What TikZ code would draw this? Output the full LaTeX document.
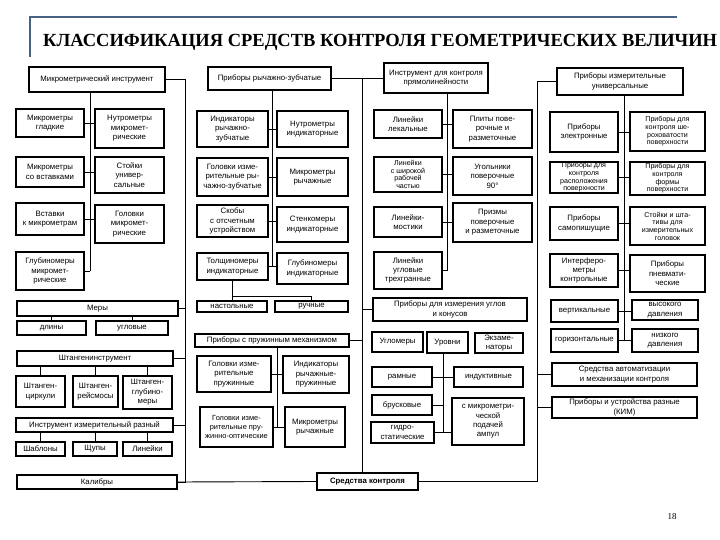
\documentclass[tikz,border=0pt]{standalone}
\usepackage{fontspec}
\setmainfont{Liberation Serif}
\newfontfamily\bxfont{Liberation Sans}
\definecolor{frameblue}{RGB}{70,100,130}
\tikzset{
  bx/.style={draw, line width=1.2pt, inner sep=0pt, align=center, font=\bxfont\fontsize{7.8}{9.4}\selectfont},
  tight/.style={font=\bxfont\fontsize{7.1}{7.7}\selectfont},
  ln/.style={line width=0.9pt},
}
\newcommand{\bx}[7][]{\node[bx,#1,minimum width={(#5-#3)*1pt},minimum height={(#6-#4)*1pt}] (#2) at ({(#3+#5)/2},{(#4+#6)/2}) {#7};}
\begin{document}
\begin{tikzpicture}[x=1pt,y=-1pt]
\useasboundingbox (0,0) rectangle (720,540);
% title frame
\draw[frameblue, line width=1.6pt] (30,57) -- (30,17) -- (677,17);
\node[anchor=base west, inner sep=0pt, font=\bfseries\fontsize{18.5}{20}\selectfont] (title) at (43,47) {КЛАССИФИКАЦИЯ СРЕДСТВ КОНТРОЛЯ ГЕОМЕТРИЧЕСКИХ ВЕЛИЧИН};

% bus and trunk x positions
\coordinate (b1) at (185,0);
\coordinate (b2) at (362,0);
\coordinate (b4) at (537,0);
\coordinate (t1) at (90,0);
\coordinate (t2) at (272,0);
\coordinate (t2b) at (277,0);
\coordinate (t3) at (447,0);
\coordinate (t3b) at (443,0);
\coordinate (t4) at (624,0);

% ---------- column 1 ----------
\bx{mi}{29}{67}{165}{92}{Микрометрический инструмент}
\bx{mg}{16}{109}{84}{137}{Микрометры\\гладкие}
\bx{nm}{95}{109}{164}{148}{Нутрометры\\микромет-\\рические}
\bx{mv}{16}{157}{84}{187}{Микрометры\\со вставками}
\bx{su}{95}{157}{164}{193}{Стойки\\универ-\\сальные}
\bx{vk}{16}{203}{84}{235}{Вставки\\к микрометрам}
\bx{gm}{95}{205}{164}{243}{Головки\\микромет-\\рические}
\bx{gl}{16}{252}{84}{290}{Глубиномеры\\микромет-\\рические}

\bx{me}{17}{301}{178}{316}{Меры}
\bx{dl}{17}{321}{86}{335}{длины}
\bx{ug}{96}{321}{168}{335}{угловые}
\bx{si}{17}{351}{173}{366}{Штангенинструмент}
\bx{sc}{16}{376}{65}{407}{Штанген-\\циркули}
\bx{sr}{73}{376}{118}{407}{Штанген-\\рейсмосы}
\bx{sg}{123}{376}{172}{409}{Штанген-\\глубино-\\меры}
\bx{ir}{16}{418}{173}{432}{Инструмент измерительный разный}
\bx{sh}{16}{442}{65}{456}{Шаблоны}
\bx{sp}{73}{442}{117}{456}{Щупы}
\bx{lnk}{123}{442}{172}{456}{Линейки}
\bx{ka}{17}{475}{177}{489}{Калибры}

% ---------- column 2 ----------
\bx{pr}{208}{67}{331}{90}{Приборы рычажно-зубчатые}
\bx{ir1}{197}{111}{268}{147}{Индикаторы\\рычажно-\\зубчатые}
\bx{nu}{277}{111}{348}{147}{Нутрометры\\индикаторные}
\bx{gr}{197}{158}{268}{196}{Головки изме-\\рительные ры-\\чажно-зубчатые}
\bx{mr}{277}{158}{348}{196}{Микрометры\\рычажные}
\bx{sk2}{197}{205}{268}{237}{Скобы\\с отсчетным\\устройством}
\bx{st}{277}{207}{348}{242}{Стенкомеры\\индикаторные}
\bx{to}{197}{253}{268}{280}{Толщиномеры\\индикаторные}
\bx{gi}{277}{253}{348}{284}{Глубиномеры\\индикаторные}
\bx{ns}{197}{301}{267}{312}{настольные}
\bx{ru}{275}{301}{348}{312}{ручные}
\bx{pp}{195}{334}{349}{347}{Приборы с пружинным механизмом}
\bx{gp}{197}{356}{271}{392}{Головки изме-\\рительные\\пружинные}
\bx{irp}{283}{356}{349}{393}{Индикаторы\\рычажные-\\пружинные}
\bx[font=\bxfont\fontsize{7.4}{9.4}\selectfont]{go}{200}{407}{273}{447}{Головки изме-\\рительные пру-\\жинно-оптические}
\bx{mr2}{285}{407}{345}{447}{Микрометры\\рычажные}

\bx[font=\bxfont\bfseries\fontsize{7.8}{9.4}\selectfont]{sk}{317}{473}{418}{490}{Средства контроля}

% ---------- column 3 ----------
\bx{ip}{384}{63}{488}{93}{Инструмент для контроля\\прямолинейности}
\bx{ll}{374}{110}{442}{138}{Линейки\\лекальные}
\bx{pl}{453}{110}{532}{148}{Плиты пове-\\рочные и\\разметочные}
\bx[tight]{lsh}{374}{157}{442}{192}{Линейки\\с широкой\\рабочей\\частью}
\bx{ugp}{453}{157}{532}{195}{Угольники\\поверочные\\90°}
\bx{lm}{374}{207}{442}{237}{Линейки-\\мостики}
\bx{pz}{453}{203}{532}{242}{Призмы\\поверочные\\и разметочные}
\bx{lu}{374}{252}{442}{289}{Линейки\\угловые\\трехгранные}
\bx{pu}{373}{298}{527}{321}{Приборы для измерения углов\\и конусов}
\bx{uglo}{372}{332}{423}{352}{Угломеры}
\bx{ur}{427}{332}{468}{353}{Уровни}
\bx{ek}{475}{333}{523}{353}{Экзаме-\\наторы}
\bx{ra}{372}{367}{432}{387}{рамные}
\bx{in}{454}{367}{523}{387}{индуктивные}
\bx{br}{372}{395}{432}{415}{брусковые}
\bx{mp}{452}{398}{524}{445}{с микрометри-\\ческой\\подачей\\ампул}
\bx{gs}{371}{422}{434}{443}{гидро-\\статические}

% ---------- column 4 ----------
\bx{pi}{557}{68}{683}{95}{Приборы измерительные\\универсальные}
\bx{pe}{550}{112}{618}{152}{Приборы\\электронные}
\bx[tight]{psh}{630}{112}{705}{151}{Приборы для\\контроля ше-\\роховатости\\поверхности}
\bx[tight]{prp}{550}{162}{618}{193}{Приборы для\\контроля\\расположения\\поверхности}
\bx[tight]{pf}{630}{162}{705}{195}{Приборы для\\контроля\\формы\\поверхности}
\bx{ps}{550}{207}{618}{240}{Приборы\\самопишущие}
\bx[tight]{sts}{630}{207}{705}{245}{Стойки и шта-\\тивы для\\измерительных\\головок}
\bx{ik}{550}{254}{618}{287}{Интерферо-\\метры\\контрольные}
\bx{pn}{630}{255}{705}{292}{Приборы\\пневмати-\\ческие}
\bx{ve}{551}{300}{618}{322}{вертикальные}
\bx{ho}{551}{329}{618}{352}{горизонтальные}
\bx{vd}{632}{300}{698}{320}{высокого\\давления}
\bx{nd}{632}{329}{698}{352}{низкого\\давления}
\bx{sa}{552}{363}{697}{386}{Средства автоматизации\\и механизации контроля}
\bx{pk}{552}{397}{697}{418}{Приборы и устройства разные\\(КИМ)}

% ---------- connectors ----------
% column 1
\draw[ln] (mi.east) -| (b1 |- ka.east) -- (ka.east);
\draw[ln] (ka.east) -- (sk.west);
\draw[ln] (me.east) -- (me.east -| b1);
\draw[ln] (si.east) -- (si.east -| b1);
\draw[ln] (ir.east) -- (ir.east -| b1);
\draw[ln] (mi.south -| t1) -- (gl.east -| t1);
\draw[ln] (mg.east) -- (mg.east -| nm.west);
\draw[ln] (mv.east) -- (mv.east -| su.west);
\draw[ln] (vk.east) -- (vk.east -| gm.west);
\draw[ln] (gl.east) -- (gl.east -| t1);
\draw[ln] (dl.north) -- (dl.north |- me.south);
\draw[ln] (ug.north) -- (ug.north |- me.south);
\draw[ln] (sc.north) -- (sc.north |- si.south);
\draw[ln] (sr.north) -- (sr.north |- si.south);
\draw[ln] (sg.north) -- (sg.north |- si.south);
\draw[ln] (sh.north) -- (sh.north |- ir.south);
\draw[ln] (sp.north) -- (sp.north |- ir.south);
\draw[ln] (lnk.north) -- (lnk.north |- ir.south);
% column 2
\draw[ln] (pr.east) -| (b2 |- sk.north);
\draw[ln] (pp.east) -- (pp.east -| b2);
\draw[ln] (pr.south -| t2) -- (to.east -| t2);
\draw[ln] (ir1.east) -- (ir1.east -| nu.west);
\draw[ln] (gr.east) -- (gr.east -| mr.west);
\draw[ln] (sk2.east) -- (sk2.east -| st.west);
\draw[ln] (to.east) -- (to.east -| gi.west);
\draw[ln] (to.south) -- (ns.north -| to.south);
\coordinate (tj) at (232.5,296);
\draw[ln] (tj) -| (ru.north);
\draw[ln] (pp.south -| t2b) -- (go.east -| t2b);
\draw[ln] (gp.east) -- (gp.east -| irp.west);
\draw[ln] (go.east) -- (go.east -| mr2.west);
% column 3
\draw[ln] (ip.west) -- (ip.west -| b2);
\draw[ln] (pu.west) -- (pu.west -| b2);
\draw[ln] (ip.south -| t3) -- (lu.east -| t3);
\draw[ln] (ll.east) -- (ll.east -| pl.west);
\draw[ln] (lsh.east) -- (lsh.east -| ugp.west);
\draw[ln] (lm.east) -- (lm.east -| pz.west);
\draw[ln] (lu.east) -- (lu.east -| t3);
\draw[ln] (ur.south -| t3b) -- (gs.east -| t3b);
\draw[ln] (ra.east) -- (ra.east -| in.west);
\draw[ln] (br.east) -- (br.east -| t3b);
\draw[ln] (gs.east) -- (gs.east -| mp.west);
% column 4
\draw[ln] (pi.west) -| (b4 |- sk.east) -- (sk.east);
\draw[ln] (sa.west) -- (sa.west -| b4);
\draw[ln] (pk.west) -- (pk.west -| b4);
\draw[ln] (pi.south -| t4) -- (ho.east -| t4);
\draw[ln] (pe.east) -- (pe.east -| psh.west);
\draw[ln] (prp.east) -- (prp.east -| pf.west);
\draw[ln] (ps.east) -- (ps.east -| sts.west);
\draw[ln] (ik.east) -- (ik.east -| pn.west);
\draw[ln] (ve.east) -- (ve.east -| vd.west);
\draw[ln] (ho.east) -- (ho.east -| nd.west);

\node[font=\fontsize{9}{10}\selectfont, inner sep=0pt] (pg) at (672,517) {18};
\end{tikzpicture}
\end{document}
